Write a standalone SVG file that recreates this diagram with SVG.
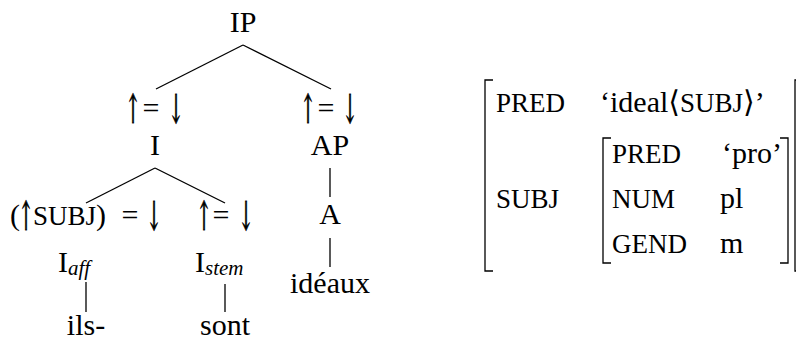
<svg xmlns="http://www.w3.org/2000/svg" width="796" height="342" viewBox="0 0 796 342">
<style>
text{font-family:"Liberation Serif","DejaVu Serif",serif;font-size:30px;fill:#000}
.sc{font-size:27px}
.sub{font-size:21px;font-style:italic}
.ar{font-family:"DejaVu Serif","DejaVu Sans",serif;font-size:40px;text-anchor:middle;fill:#000;stroke:#000;stroke-width:0.9;opacity:0.999}
.m{text-anchor:middle}
line,path{stroke:#000;stroke-width:1.3;fill:none}
</style>
<rect width="796" height="342" fill="#fff"/>
<g id="connectors">
<line x1="243" y1="45" x2="156" y2="89"/>
<line x1="243" y1="45" x2="331" y2="89"/>
<line x1="155" y1="168" x2="86" y2="203"/>
<line x1="155" y1="168" x2="225" y2="203"/>
<line x1="330" y1="168" x2="330" y2="197"/>
<line x1="330" y1="238" x2="330" y2="267"/>
<line x1="86" y1="282" x2="86" y2="312"/>
<line x1="225" y1="284" x2="225" y2="312"/>
</g>
<g id="IP"><text class="m" x="243" y="32">IP</text></g>
<g id="I">
<text class="ar" transform="translate(133 123) scale(0.45 1)">↑</text>
<text class="m" x="151" y="118">=</text>
<text class="ar" transform="translate(176 123) scale(0.45 1)">↓</text>
<text class="m" x="155" y="155">I</text>
</g>
<g id="AP">
<text class="ar" transform="translate(308 123) scale(0.45 1)">↑</text>
<text class="m" x="326" y="118">=</text>
<text class="ar" transform="translate(350 123) scale(0.45 1)">↓</text>
<text class="m" x="330" y="155">AP</text>
</g>
<g id="A"><text class="m" x="330" y="224">A</text></g>
<g id="ideaux"><text class="m" x="330" y="293">idéaux</text></g>
<g id="Iaff">
<text x="10" y="225">(</text>
<text class="ar" transform="translate(26 230) scale(0.45 1)">↑</text>
<text x="33" y="225"><tspan class="sc">SUBJ</tspan>)</text>
<text class="m" x="130" y="225">=</text>
<text class="ar" transform="translate(154 230) scale(0.45 1)">↓</text>
<text x="58" y="272">I<tspan class="sub" dy="3">aff</tspan></text>
</g>
<g id="Istem">
<text class="ar" transform="translate(204 230) scale(0.45 1)">↑</text>
<text class="m" x="221" y="225">=</text>
<text class="ar" transform="translate(246 230) scale(0.45 1)">↓</text>
<text x="195" y="272">I<tspan class="sub" dy="3">stem</tspan></text>
</g>
<g id="ils"><text class="m" x="86" y="335">ils-</text></g>
<g id="sont"><text class="m" x="225" y="335">sont</text></g>
<g id="fstructure">
<path d="M493 80 H485 V271 H493"/>
<path d="M800 80 H795 V271 H800"/>
<text class="sc" x="496" y="112">PRED</text>
<text x="600" y="112">‘ideal⟨<tspan class="sc">SUBJ</tspan>⟩’</text>
<text class="sc" x="496" y="208">SUBJ</text>
<path d="M611 138 H603 V263 H611"/>
<path d="M780 138 H788 V263 H780"/>
<text class="sc" x="612" y="163">PRED</text>
<text x="722" y="163">‘pro’</text>
<text class="sc" x="612" y="208">NUM</text>
<text x="720" y="208">pl</text>
<text class="sc" x="612" y="253">GEND</text>
<text x="720" y="253">m</text>
</g>
</svg>
